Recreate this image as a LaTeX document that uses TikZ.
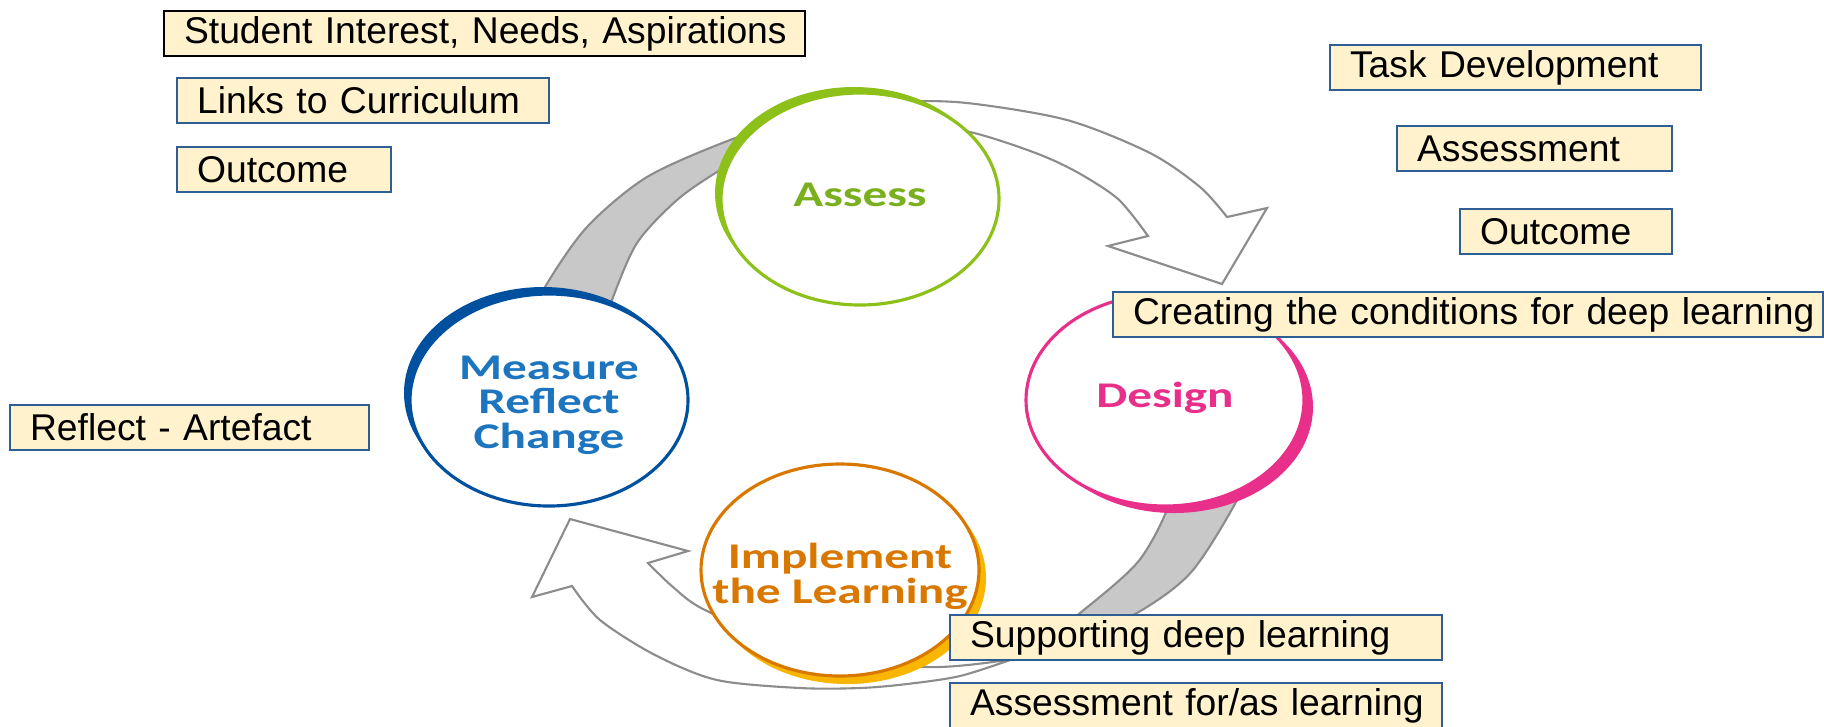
\documentclass[tikz,border=0pt]{standalone}
\usepackage{fontspec}
\setmainfont{Liberation Sans}
\newfontfamily\stagefont{Carlito}
\usepackage{xcolor}
\usepackage{graphicx}
\usetikzlibrary{shapes.geometric}
\definecolor{GRN}{RGB}{141,192,24}
\definecolor{GRT}{RGB}{122,176,30}
\definecolor{BLU}{RGB}{0,80,160}
\definecolor{BLT}{RGB}{28,117,190}
\definecolor{PNK}{RGB}{232,48,138}
\definecolor{ORG}{RGB}{217,120,0}
\definecolor{YEL}{RGB}{248,182,0}
\definecolor{CRM}{RGB}{255,242,204}
\definecolor{BBL}{RGB}{46,94,148}
\definecolor{GLN}{RGB}{140,140,140}
\definecolor{GFL}{RGB}{200,200,200}
\tikzset{
    BX/.style ={rectangle, draw=BBL, line width=0.6pt, fill=CRM, inner xsep=0.2cm, inner ysep=0pt, minimum height=0.45cm, align=left, anchor=north west, font=\fontsize{10.6}{12}\selectfont},
    ST/.style ={ellipse, draw=#1, line width=0.9pt, fill=white, inner sep=0pt, minimum width=2.78cm, minimum height=2.12cm},
    STT/.style ={inner sep=0pt, font=\stagefont\bfseries\fontsize{10.3}{9.0}\selectfont},
    AR/.style ={draw=GLN, line width=0.6pt, fill=white},
    BD/.style ={draw=GLN, line width=0.6pt, fill=GFL}
}
\newcommand{\stg}[1]{\scalebox{1.36}[1]{\begin{tabular}{@{}c@{}}#1\end{tabular}}}

\begin{document}
\begin{tikzpicture}[x=0.1mm, y=-0.1mm]
            \useasboundingbox (0,0) rectangle (1824,726);
            \coordinate (cA) at (860,199);
            \coordinate (cD) at (1165,400);
            \coordinate (cI) at (840,570);
            \coordinate (cM) at (549,400);
            \draw[BD] plot[smooth] coordinates {(520,340) (545,287) (587,227) (647,177) (730,140) (800,118)}
                -- plot[smooth] coordinates {(790,128) (720,170) (677,200) (637,243) (612,300) (600,340)} -- cycle;
            \draw[AR] plot[smooth] coordinates {(830,112) (900,102) (967,103) (1067,120) (1150,153) (1200,187) (1227,217)}
                -- (1267,208) -- (1222,284) -- (1108,246) -- (1148,236)
                -- plot[smooth, tension=0.5] coordinates {(1148,236) (1118,199) (1075,171) (1033,152) (970,132) (900,122) (830,118)} -- cycle;
            \draw[BD] plot[smooth] coordinates {(1262,440) (1237,500) (1193,570) (1147,607) (1085,638) (1013,659)}
                -- plot[smooth] coordinates {(1013,659) (1045,638) (1080,613) (1137,563) (1167,510) (1185,450)} -- cycle;
            \draw[AR] plot[smooth] coordinates {(1013,659) (960,676) (907,684) (860,688) (800,688) (717,680) (655,655) (600,620) (572,586)}
                -- (532,597) -- (570,519) -- (688,551) -- (648,563)
                -- plot[smooth] coordinates {(648,563) (673,587) (705,610) (800,650) (927,667) (1013,659)} -- cycle;
            \fill[GRN] ([shift={(-6,-6)}]cA) ellipse[x radius=1.39cm, y radius=1.06cm];
            \node[ST=GRN] (assess) at (cA) {};
            \node[STT, text=GRT] (assesstxt) at (assess) {\stg{Assess}};
            \fill[PNK] ([shift={(9,7)}]cD) ellipse[x radius=1.39cm, y radius=1.06cm];
            \node[ST=PNK] (design) at (cD) {};
            \node[STT, text=PNK] (designtxt) at (design) {\stg{Design}};
            \fill[YEL] ([shift={(7,8)}]cI) ellipse[x radius=1.39cm, y radius=1.06cm];
            \node[ST=ORG] (implement) at (cI) {};
            \node[STT, text=ORG] (implementtxt) at ([yshift=-0.8mm]implement.center) {\stg{Implement\\the Learning}};
            \fill[BLU] ([shift={(-6,-7)}]cM) ellipse[x radius=1.39cm, y radius=1.06cm];
            \node[ST=BLU] (measure) at (cM) {};
            \node[STT, text=BLT] (measuretxt) at ([yshift=-0.7mm]measure.center) {\stg{Measure\\Reflect\\Change}};
            \node[BX, draw=black, text width=6.01cm] (student) at (163,10) {\mbox{Student Interest, Needs, Aspirations}};
            \node[BX, text width=3.32cm] (links) at (176,77) {\mbox{Links to Curriculum}};
            \node[BX, text width=1.74cm] (outleft) at (176,146) {\mbox{Outcome}};
            \node[BX, text width=3.31cm] (task) at (1329,44) {\mbox{Task Development}};
            \node[BX, text width=2.35cm] (assessment) at (1396,125) {\mbox{Assessment}};
            \node[BX, text width=1.72cm] (outright) at (1459,208) {\mbox{Outcome}};
            \node[BX, text width=6.70cm] (creating) at (1112,291) {\mbox{Creating the conditions for deep learning}};
            \node[BX, text width=3.19cm] (reflect) at (9,404) {\mbox{Reflect - Artefact}};
            \node[BX, text width=4.52cm] (supporting) at (949,614) {\mbox{Supporting deep learning}};
            \node[BX, text width=4.52cm] (assessfor) at (949,682) {\mbox{Assessment for/as learning}};
        \end{tikzpicture}
\end{document}
